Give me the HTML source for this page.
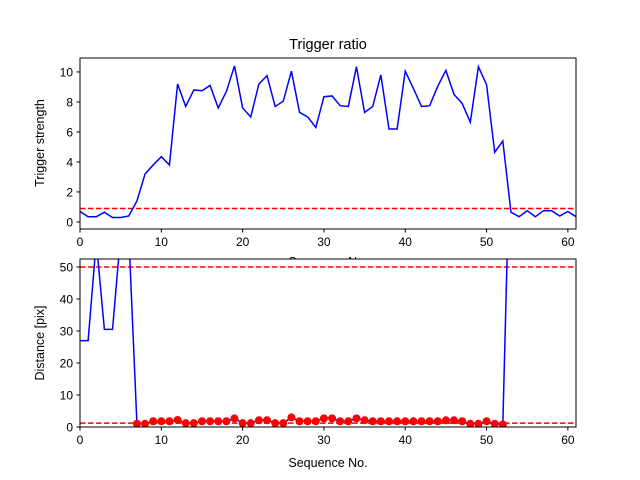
<!DOCTYPE html>
<html><head><meta charset="utf-8"><style>body{margin:0;background:#fff}svg{display:block}text{font-family:"Liberation Sans","DejaVu Sans",sans-serif;fill:#000}</style></head>
<body>
<svg id="c" width="640" height="480"></svg>
<script>
const xs=[...Array(62).keys()];
const trigger=[0.7,0.35,0.35,0.65,0.3,0.3,0.4,1.4,3.2,3.8,4.35,3.8,9.2,7.7,8.8,8.75,9.1,7.6,8.7,10.4,7.6,7.0,9.2,9.75,7.7,8.05,10.05,7.3,7.0,6.3,8.35,8.4,7.75,7.7,10.35,7.3,7.7,9.8,6.2,6.2,10.05,8.9,7.7,7.75,9.05,10.1,8.5,7.9,6.65,10.35,9.15,4.65,5.4,0.65,0.35,0.75,0.35,0.75,0.75,0.4,0.7,0.35];
const trigThresh=0.9;
const distance=[27,27,58,30.5,30.5,60,60,1,1,1.8,1.8,1.8,2.2,1.2,1.2,1.8,1.8,1.8,1.8,2.7,1.2,1.2,2.1,2.1,1.2,1.2,3,1.8,1.8,1.8,2.7,2.7,1.8,1.8,2.7,2.1,1.8,1.8,1.8,1.8,1.8,1.8,1.8,1.8,1.8,2.1,2.1,1.8,1,1,1.8,1,0.8,100,100,100,100,100,100,100,100,100];
const dotIdx=[7,52];
const distThresh=[50,1.2];
const xTicks=[0,10,20,30,40,50,60];
const yTicksTop=[0,2,4,6,8,10];
const yTicksBot=[0,10,20,30,40,50];
const NS='http://www.w3.org/2000/svg';
const svg=document.getElementById('c');
function mk(t,a,p){const e=document.createElementNS(NS,t);for(const k in a)e.setAttribute(k,a[k]);(p||svg).appendChild(e);return e;}
const L=80,R=576;
const sx=v=>L+(v-0)/61*(R-L);
function panel(top,bot,ymin,ymax,yt,name){
  const sy=v=>bot-(v-ymin)/(ymax-ymin)*(bot-top);
  const g=mk('g',{});
  
  
  mk('rect',{x:L,y:top,width:R-L,height:bot-top,fill:'#fff'},g);
  const cid='clip'+name;
  const cp=mk('clipPath',{id:cid},g);mk('rect',{x:L,y:top,width:R-L,height:bot-top},cp);
  const pg=mk('g',{'clip-path':'url(#'+cid+')'},g);
  xTicks.forEach(t=>{mk('line',{x1:sx(t),x2:sx(t),y1:bot,y2:bot+3.5,stroke:'#000'},g);
    const tx=mk('text',{x:sx(t),y:bot+17,'font-size':12,'text-anchor':'middle'},g);tx.textContent=t;
    });
  yt.forEach(t=>{mk('line',{x1:L-3.5,x2:L,y1:sy(t),y2:sy(t),stroke:'#000'},g);
    const tx=mk('text',{x:L-7,y:sy(t)+4.5,'font-size':12,'text-anchor':'end'},g);tx.textContent=t;
    });
  return {g,pg,sy};
}
// top
const A=panel(58,229,-0.47,10.93,yTicksTop,'trigger-panel');
mk('line',{x1:L,x2:R,y1:A.sy(trigThresh),y2:A.sy(trigThresh),stroke:'red','stroke-width':1.5,'stroke-dasharray':'5.5,2.5'},A.pg);
const l1=mk('polyline',{points:xs.map((x,i)=>sx(x)+','+A.sy(trigger[i])).join(' '),fill:'none',stroke:'blue','stroke-width':1.5},A.pg);

mk('rect',{x:L,y:58,width:R-L,height:171,fill:'none',stroke:'#000','stroke-width':1},A.g);
let t=mk('text',{x:328,y:49,'font-size':14.5,'text-anchor':'middle'});t.textContent='Trigger ratio';
t=mk('text',{x:328,y:266,'font-size':12.5,'text-anchor':'middle'},A.g);t.textContent='Sequence No.';
t=mk('text',{x:0,y:0,'font-size':12.5,'text-anchor':'middle',transform:'translate(44,143) rotate(-90)'});t.textContent='Trigger strength';
// bottom
const B=panel(259,427,0,52.5,yTicksBot,'distance-panel');
distThresh.forEach(v=>{const e=mk('line',{x1:L,x2:R,y1:B.sy(v),y2:B.sy(v),stroke:'red','stroke-width':1.5,'stroke-dasharray':'5.5,2.5'},B.pg);});
const l2=mk('polyline',{points:xs.map((x,i)=>sx(x)+','+B.sy(distance[i])).join(' '),fill:'none',stroke:'blue','stroke-width':1.5},B.pg);

for(let i=dotIdx[0];i<=dotIdx[1];i++){const c=mk('circle',{cx:sx(xs[i]),cy:B.sy(distance[i]),r:4,fill:'red'},B.pg);
  }
mk('rect',{x:L,y:259,width:R-L,height:168,fill:'none',stroke:'#000','stroke-width':1},B.g);
t=mk('text',{x:328,y:467,'font-size':12.5,'text-anchor':'middle'});t.textContent='Sequence No.';
t=mk('text',{x:0,y:0,'font-size':12.5,'text-anchor':'middle',transform:'translate(44,343) rotate(-90)'});t.textContent='Distance [pix]';
</script>
</body></html>
